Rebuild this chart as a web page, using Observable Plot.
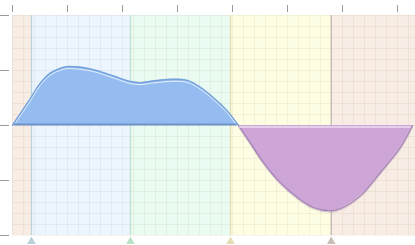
<!DOCTYPE html>
<html>
<head>
<meta charset="utf-8">
<script src="https://cdn.jsdelivr.net/npm/d3@7"></script>
<script src="https://cdn.jsdelivr.net/npm/@observablehq/plot@0.6"></script>
<style>
  html, body { margin: 0; padding: 0; background: #fff; }
</style>
</head>
<body>
<div id="chart"></div>
<script>
// ---- data ----
const xTicks = [0, 1, 2, 3, 4, 5, 6, 7];
const yTicks = [-2, -1, 0, 1, 2];
const bandEdges = [0, 0.345, 2.145, 3.964, 5.795, 7.327];
const dividers = [0.345, 2.145, 3.964, 5.795];

const posX = [0, 0.16, 0.32, 0.50, 0.685, 0.87, 0.99, 1.41, 1.78, 2.14, 2.32, 2.56, 2.92, 3.18, 3.41, 3.65, 3.90, 4.11];
const posY = [0, 0.24, 0.48, 0.76, 0.95, 1.04, 1.07, 1.03, 0.92, 0.80, 0.78, 0.81, 0.84, 0.82, 0.70, 0.51, 0.27, 0];
const negX = [4.11, 4.32, 4.56, 4.87, 5.18, 5.47, 5.78, 5.96, 6.33, 6.69, 7.05, 7.27];
const negY = [0, -0.31, -0.67, -1.04, -1.31, -1.49, -1.55, -1.51, -1.27, -0.85, -0.40, 0];

// ---- styles ----
const bandFill = ["#f7ede4", "#eaf5fe", "#eafbf1", "#fdfde3", "#f7ede4"];
const dividerStroke = ["#bcd2dc", "#bfe1cd", "#e2ddae", "#c4b8ae"];
const markerFill = ["#b9cfd8", "#bde0cb", "#e4dfb2", "#c9bfb6"];

const bands = bandFill.map((_, i) => ({x1: bandEdges[i], x2: bandEdges[i + 1], i}));
const divs = dividers.map((x, i) => ({x, i}));
const pos = posX.map((x, i) => ({x, y: posY[i]}));
const neg = negX.map((x, i) => ({x, y: negY[i]}));
const curve = "catmull-rom";

const chart = Plot.plot({
  width: 415,
  height: 245,
  marginTop: 15,
  marginBottom: 10,
  marginLeft: 12,
  marginRight: 0,
  x: {domain: [0, 7.327], axis: null},
  y: {domain: [-2, 2], axis: null},
  marks: [
    Plot.rectX(bands, {x1: "x1", x2: "x2", y1: -2, y2: 2, fill: d => bandFill[d.i]}),
    Plot.gridX({ticks: d3.range(0, 7.4, 0.2), stroke: "#7a5a3a", strokeOpacity: 0.07}),
    Plot.gridY({ticks: d3.range(-2, 2.01, 0.2), stroke: "#7a5a3a", strokeOpacity: 0.07}),
    Plot.ruleX(divs, {x: "x", y1: -2, y2: 2, stroke: d => dividerStroke[d.i], strokeWidth: 1.3}),
    Plot.dot(divs, {x: "x", y: -2, dy: 6, symbol: "triangle", r: 3.2, fill: d => markerFill[d.i], stroke: "none"}),
    // positive area (blue)
    Plot.areaY(pos, {x: "x", y: "y", curve, fill: "#94bcf0"}),
    Plot.lineY(pos, {x: "x", y: "y", curve, stroke: "#76a2dc", strokeWidth: 1.4}),
    Plot.lineY(pos, {x: "x", y: "y", curve, stroke: "#ffffff", strokeOpacity: 0.75, strokeWidth: 1, dy: 2}),
    Plot.ruleY([0], {x1: 0.03, x2: 4.09, stroke: "#6f93c8", strokeWidth: 2, dy: -1}),
    // negative area (purple)
    Plot.areaY(neg, {x: "x", y: "y", curve, fill: "#cda5d7"}),
    Plot.lineY(neg, {x: "x", y: "y", curve, stroke: "#9c7aad", strokeOpacity: 0.35, strokeWidth: 2, dy: 1}),
    Plot.lineY(neg, {x: "x", y: "y", curve, stroke: "#a482b4", strokeWidth: 1.2}),
    Plot.ruleY([0], {x1: 4.13, x2: 7.25, stroke: "#eddcf1", strokeWidth: 1.4, dy: 1.5}),
    // axes (ticks only)
    Plot.axisX({anchor: "top", ticks: xTicks, tickSize: 7, dy: -4, tickFormat: () => "", label: null, stroke: "#9a9a9a"}),
    Plot.axisY({anchor: "left", ticks: yTicks, tickSize: 9, dx: -3, tickFormat: () => "", label: null, stroke: "#9a9a9a"})
  ]
});
document.getElementById("chart").appendChild(chart);
</script>
</body>
</html>
